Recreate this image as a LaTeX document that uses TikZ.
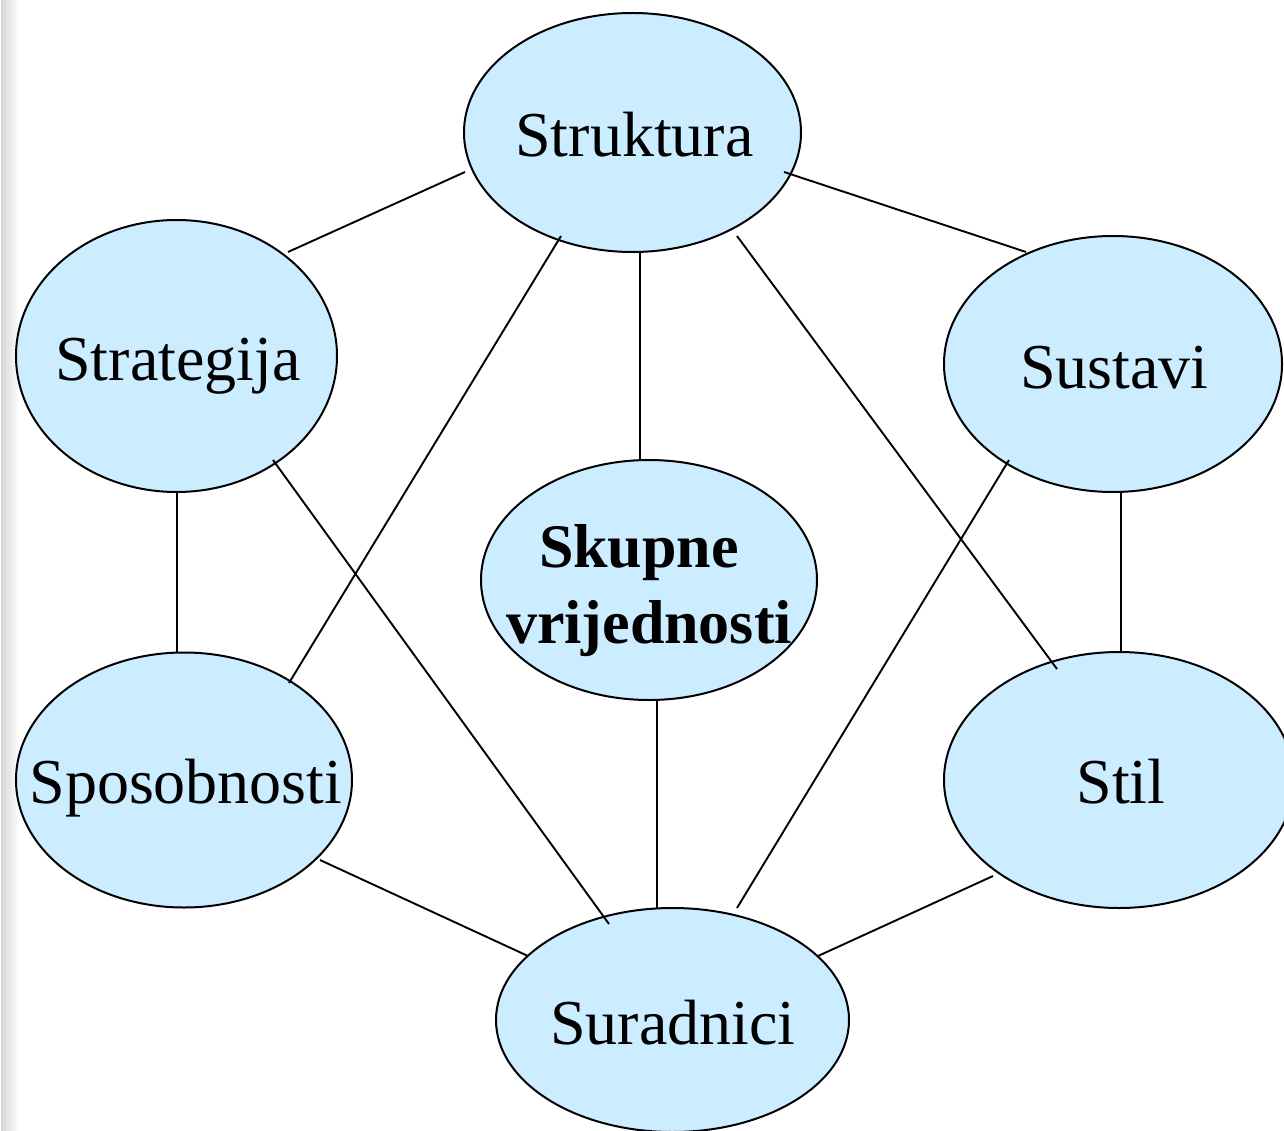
\documentclass[tikz,border=0pt]{standalone}
\usepackage{fontspec}
\setmainfont{Liberation Serif}
\usetikzlibrary{shapes.geometric}
\definecolor{fillblue}{HTML}{CCECFF}
\tikzset{
  oval/.style={ellipse, draw=black, line width=2pt, fill=fillblue, inner sep=0pt},
  lbl/.style={font=\fontsize{64}{76}\selectfont, inner sep=0pt, anchor=base},
  link/.style={line width=1.9pt, black}
}
\begin{document}
\begin{tikzpicture}[x=1pt, y=-1pt]
\clip (0,0) rectangle (1284,1131);
\fill[white] (0,0) rectangle (1284,1131);
\fill[left color=gray!32, right color=white] (1,0) rectangle (19,1131);

% ellipses
\node[oval, minimum width=337pt, minimum height=239pt] (struk) at (632.5,132.5) {};
\node[oval, minimum width=321pt, minimum height=272pt] (strat) at (176.5,356) {};
\node[oval, minimum width=338pt, minimum height=256pt] (sust) at (1113,364) {};
\node[oval, minimum width=336pt, minimum height=240pt] (skup) at (649,580) {};
\node[oval, minimum width=336pt, minimum height=255pt] (spos) at (184,780) {};
\node[oval, minimum width=350pt, minimum height=256pt] (stil) at (1119,780) {};
\node[oval, minimum width=353pt, minimum height=224pt] (sur) at (672.5,1020) {};

% labels
\node[lbl] (tstruk) at ([shift={(2,24)}]struk.center) {Struktura};
\node[lbl] (tstrat) at ([shift={(1.5,24)}]strat.center) {Strategija};
\node[lbl] (tsust) at ([shift={(1.5,24)}]sust.center) {Sustavi};
\node[lbl] (tspos) at ([shift={(2,23)}]spos.center) {Sposobnosti};
\node[lbl] (tstil) at ([shift={(2,23)}]stil.center) {Stil};
\node[lbl] (tsur) at ([shift={(0.5,24)}]sur.center) {Suradnici};
\node[font=\fontsize{62}{76}\selectfont\bfseries, align=center, inner sep=0pt, anchor=center]
  (tskup) at ([shift={(0,11)}]skup.center) {Skupne\hspace*{20pt}\\vrijednosti};

% connectors
\draw[link] ([shift={(-167.5,39.5)}]struk.center) -- ([shift={(111.5,-104)}]strat.center);
\draw[link] ([shift={(151.5,39.5)}]struk.center) -- ([shift={(-87,-112)}]sust.center);
\draw[link] ([shift={(7.5,119.5)}]struk.center) -- ([shift={(-9,-120)}]skup.center);
\draw[link] ([shift={(-71.5,103.5)}]struk.center) -- ([shift={(105,-97)}]spos.center);
\draw[link] ([shift={(104.5,103.5)}]struk.center) -- ([shift={(-62,-111)}]stil.center);
\draw[link] ([shift={(0.5,136)}]strat.center) -- ([shift={(-7,-128)}]spos.center);
\draw[link] ([shift={(96.5,104)}]strat.center) -- ([shift={(-63.5,-96)}]sur.center);
\draw[link] ([shift={(8,128)}]sust.center) -- ([shift={(2,-128)}]stil.center);
\draw[link] ([shift={(-104,96)}]sust.center) -- ([shift={(64.5,-112)}]sur.center);
\draw[link] ([shift={(8,120)}]skup.center) -- ([shift={(-15.5,-112)}]sur.center);
\draw[link] ([shift={(136,80)}]spos.center) -- ([shift={(-144.5,-64)}]sur.center);
\draw[link] ([shift={(-126,96)}]stil.center) -- ([shift={(145.5,-64)}]sur.center);
\end{tikzpicture}
\end{document}
